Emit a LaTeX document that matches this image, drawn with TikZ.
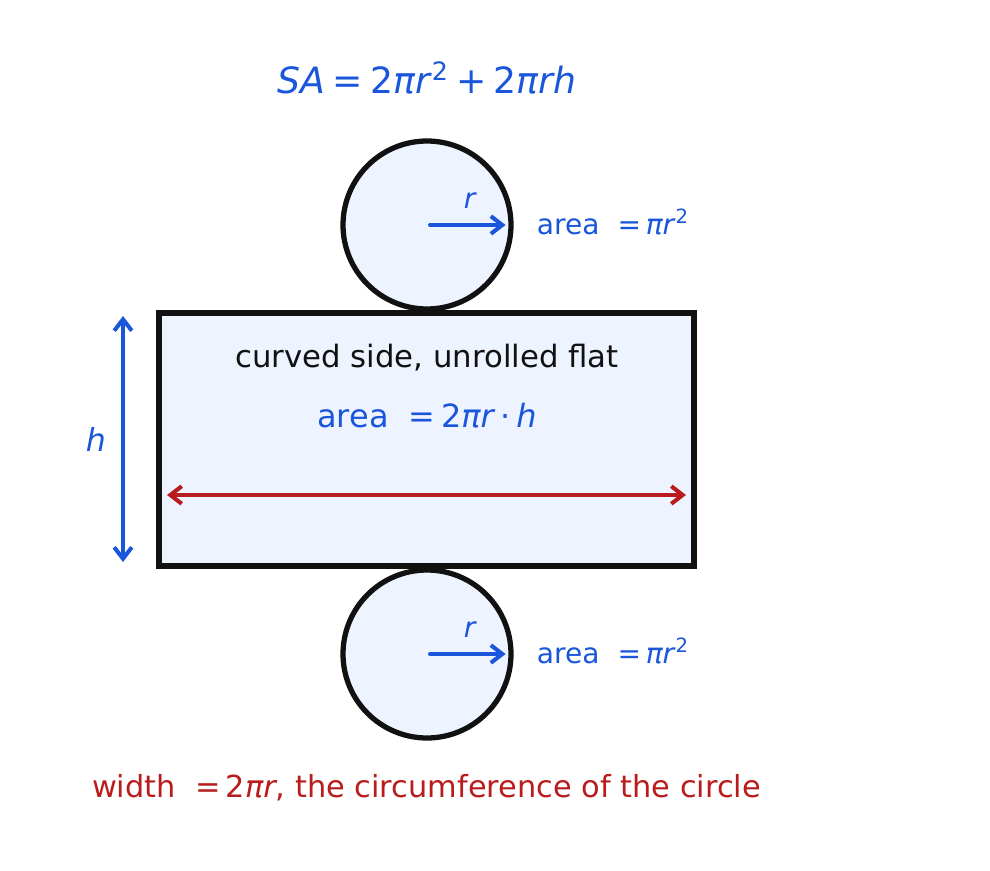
\documentclass[tikz,border=0pt]{standalone}
\usepackage{fontspec}
\setmainfont{DejaVu Sans}
\usetikzlibrary{arrows.meta,positioning}
\definecolor{netblue}{HTML}{1A56DB}
\definecolor{netred}{HTML}{B91C1C}
\definecolor{netink}{HTML}{111111}
\definecolor{netfill}{HTML}{EEF4FF}
\newcommand{\mi}[1]{\textit{#1}}
\newcommand{\fs}[1]{\fontsize{#1}{#1}\selectfont}

\begin{document}
\begin{tikzpicture}[x=0.02cm,y=-0.02cm,
		face/.style={circle, draw=netink, line width=3pt, fill=netfill, minimum size=3.36cm, inner sep=0pt},
		side/.style={rectangle, draw=netink, line width=3pt, fill=netfill, minimum width=10.7cm, minimum height=5.06cm, inner sep=0pt},
		dim/.style={line width=2.3pt, line cap=round, {Straight Barb[length=6.5pt,width=10pt]}-{Straight Barb[length=6.5pt,width=10pt]}},
		rad/.style={line width=2.3pt, line cap=round, -{Straight Barb[length=6.5pt,width=10pt]}, netblue, shorten <=0.06cm, shorten >=0.16cm},
		lbl/.style={text=netblue, font=\fs{16}, inner sep=0pt}]
	\useasboundingbox (0,0) rectangle (990,871);
	% the net: curved side and the two ends
	\node[side] (net) at (426.5,439.5) {};
	\node[face] (top) at (427,225) {};
	\node[face] (bot) at (427,654) {};
	\node[lbl, font=\fs{20.6}] (sa) at (427,78) {\mi{SA}\hspace{0.2em}=\hspace{0.2em}2\mi{πr}\textsuperscript{2}\hspace{0.2em}+\hspace{0.2em}2\mi{πrh}};
	% radii
	\draw[rad] (top.center) -- node[lbl, above=0.29cm] (rtop) {\mi{r}} (top.east);
	\draw[rad] (bot.center) -- node[lbl, above=0.29cm] (rbot) {\mi{r}} (bot.east);
	\node[lbl, right=0.46cm of top, yshift=0.06cm] (atop) {area\ \ =\,\mi{πr}\textsuperscript{2}};
	\node[lbl, right=0.46cm of bot, yshift=0.06cm] (abot) {area\ \ =\,\mi{πr}\textsuperscript{2}};
	% labels on the side
	\node[text=netink, font=\fs{17.5}, inner sep=0pt] (curv) at (427,358) {curved side, unrolled flat};
	\node[lbl, font=\fs{18.2}] (aside) at (427,416) {area\ \ =\,2\mi{πr}\,·\,\mi{h}};
	% height and width
	\coordinate (htop) at (123,316);
	\coordinate (hbot) at (123,562);
	\draw[dim, netblue] (htop) -- node[lbl, left=0.3cm, font=\fs{18}] (h) {\mi{h}} (hbot);
	\coordinate (wl) at (167,495);
	\coordinate (wr) at (686,495);
	\draw[dim, netred] (wl) -- (wr);
	\node[text=netred, font=\fs{17.3}, inner sep=0pt] (wid) at (426.5,788) {width\ \ =\,2\mi{πr}, the circumference of the circle};
\end{tikzpicture}
\end{document}
